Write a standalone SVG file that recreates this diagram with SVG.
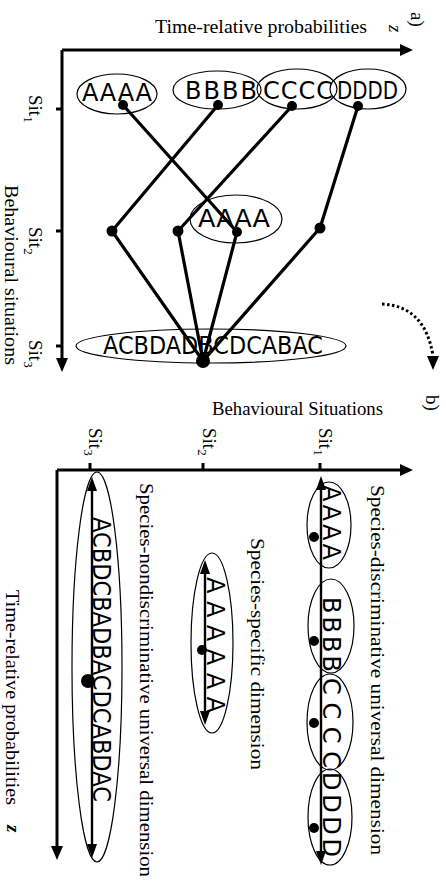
<svg xmlns="http://www.w3.org/2000/svg" width="446" height="889" viewBox="0 0 446 889">
<style>
.ax{stroke:#000;stroke-width:3;fill:none}
.ln{stroke:#000;stroke-width:3.2;fill:none}
.ln2{stroke:#000;stroke-width:2.4;fill:none}
.el{stroke:#000;stroke-width:1.2;fill:none}
.dot{fill:#000}
.ah{fill:#000}
.ser{font-family:"Liberation Serif","Times New Roman",serif;font-size:19px;fill:#000}
.sans{font-family:"DejaVu Sans","Liberation Sans",Arial,sans-serif;font-size:24px;fill:#000}
.sub{font-size:13px}
</style>
<rect width="446" height="889" fill="#fff"/>

<!-- Panel a axes -->
<g id="axes-a">
<path class="ax" d="M62,50 H402 M62,50 V360 M56,109 H62 M56,231 H62 M56,346 H62"/>
<polygon class="ah" points="413,50 400,44 400,56"/>
<polygon class="ah" points="62,372 56,358 68,358"/>
<text class="ser" x="155" y="33" textLength="212" lengthAdjust="spacingAndGlyphs">Time-relative probabilities</text>
<text class="ser" font-style="italic" transform="translate(389,25) rotate(90)">z</text>
<text class="ser" font-size="21" transform="translate(411,12) rotate(90)">a)</text>
<text class="ser" transform="translate(5,185) rotate(90)" textLength="180" lengthAdjust="spacingAndGlyphs">Behavioural situations</text>
<text class="ser" transform="translate(29,95) rotate(90)">Sit<tspan class="sub" dy="5">1</tspan></text>
<text class="ser" transform="translate(29,227) rotate(90)">Sit<tspan class="sub" dy="5">2</tspan></text>
<text class="ser" transform="translate(29,340) rotate(90)">Sit<tspan class="sub" dy="5">3</tspan></text>
</g>

<g id="connectors-a">
<path class="ln" d="M123,105 L237,232 M218,105 L112,231 M292,106 L178,231 M358,106 L320,228"/>
<path class="ln" d="M112,231 L203,361 M178,231 L203,361 M237,232 L203,361 M320,228 L203,361"/>
</g>

<g id="node-a-AAAA">
<ellipse class="el" cx="117" cy="94" rx="40" ry="20"/>
<text class="sans" x="82" y="101" textLength="70" lengthAdjust="spacing">AAAA</text>
<circle class="dot" cx="123" cy="105" r="5"/>
</g>
<g id="node-a-BBBB">
<ellipse class="el" cx="217" cy="90" rx="44" ry="19"/>
<text class="sans" x="185" y="99" textLength="72" lengthAdjust="spacing">BBBB</text>
<circle class="dot" cx="218" cy="105" r="5"/>
</g>
<g id="node-a-CCCC">
<ellipse class="el" cx="297" cy="89" rx="40" ry="20"/>
<text class="sans" x="263" y="99" textLength="70" lengthAdjust="spacing">CCCC</text>
<circle class="dot" cx="292" cy="106" r="5"/>
</g>
<g id="node-a-DDDD">
<ellipse class="el" cx="368" cy="89" rx="38" ry="20"/>
<text class="sans" x="337" y="99" textLength="61" lengthAdjust="spacingAndGlyphs">DDDD</text>
<circle class="dot" cx="358" cy="106" r="5"/>
</g>
<g id="node-a-sit2">
<ellipse class="el" cx="236" cy="219" rx="46" ry="24"/>
<text class="sans" x="198" y="227" textLength="72" lengthAdjust="spacingAndGlyphs">AAAA</text>
<circle class="dot" cx="112" cy="231" r="5.5"/>
<circle class="dot" cx="178" cy="231" r="5.5"/>
<circle class="dot" cx="237" cy="232" r="5"/>
<circle class="dot" cx="320" cy="228" r="5.5"/>
</g>
<g id="node-a-sit3">
<ellipse class="el" cx="211" cy="346" rx="135" ry="17"/>
<text class="sans" x="103" y="354" textLength="220" lengthAdjust="spacingAndGlyphs">ACBDADBCDCABAC</text>
<circle class="dot" cx="203" cy="361" r="7"/>
</g>

<g id="transition">
<path d="M382,304 Q425,306 433,356" stroke="#000" stroke-width="3" stroke-dasharray="2.5,2.5" fill="none"/>
<polygon class="ah" points="433,370 427,356 439,356"/>
</g>

<!-- Panel b -->
<g id="axes-b">
<path class="ax" d="M57,470 H402 M57,470 V848 M90,463 V470 M203,463 V470 M320,463 V470"/>
<polygon class="ah" points="413,470 400,464 400,476"/>
<polygon class="ah" points="57,860 51,846 63,846"/>
<text class="ser" x="212" y="415" textLength="171" lengthAdjust="spacingAndGlyphs">Behavioural Situations</text>
<text class="ser" font-size="21" transform="translate(426,395) rotate(90)">b)</text>
<text class="ser" transform="translate(6,590) rotate(90)" textLength="215" lengthAdjust="spacingAndGlyphs">Time-relative probabilities</text>
<text class="ser" font-style="italic" font-weight="bold" transform="translate(7,825) rotate(90)">z</text>
<text class="ser" transform="translate(89,428) rotate(90)">Sit<tspan class="sub" dy="5">3</tspan></text>
<text class="ser" transform="translate(203,428) rotate(90)">Sit<tspan class="sub" dy="5">2</tspan></text>
<text class="ser" transform="translate(319,428) rotate(90)">Sit<tspan class="sub" dy="5">1</tspan></text>
<text class="ser" transform="translate(371,485) rotate(90)" textLength="370" lengthAdjust="spacingAndGlyphs">Species-discriminative universal dimension</text>
<text class="ser" transform="translate(251,538) rotate(90)" textLength="232" lengthAdjust="spacingAndGlyphs">Species-specific dimension</text>
<text class="ser" transform="translate(140,483) rotate(90)" textLength="394" lengthAdjust="spacingAndGlyphs">Species-nondiscriminative universal dimension</text>
</g>

<g id="node-b-sit1">
<path class="ln2" d="M321,488 V853"/>
<polygon class="ah" points="321,476 316,490 326,490"/>
<polygon class="ah" points="321,865 316,851 326,851"/>
<ellipse class="el" cx="329" cy="525" rx="22" ry="43"/>
<ellipse class="el" cx="331" cy="626" rx="23" ry="47"/>
<ellipse class="el" cx="330" cy="722" rx="23" ry="48"/>
<ellipse class="el" cx="330" cy="817" rx="22" ry="48"/>
<text class="sans" transform="translate(323,485) rotate(90)" textLength="75" lengthAdjust="spacing">AAAA</text>
<text class="sans" transform="translate(323,597) rotate(90)" textLength="75" lengthAdjust="spacing">BBBB</text>
<text class="sans" transform="translate(323,678) rotate(90)" textLength="90" lengthAdjust="spacing">CCCC</text>
<text class="sans" transform="translate(323,772) rotate(90)" textLength="85" lengthAdjust="spacing">DDDD</text>
<circle class="dot" cx="314" cy="537" r="5"/>
<circle class="dot" cx="314" cy="641" r="5"/>
<circle class="dot" cx="314" cy="723" r="5"/>
<circle class="dot" cx="314" cy="828" r="5"/>
</g>

<g id="node-b-sit2">
<ellipse class="el" cx="212" cy="643" rx="21" ry="90"/>
<path class="ln2" d="M205,572 V713"/>
<polygon class="ah" points="205,560 200,574 210,574"/>
<polygon class="ah" points="205,725 200,711 210,711"/>
<text class="sans" transform="translate(207,577) rotate(90)" textLength="136" lengthAdjust="spacing">AAAAAA</text>
<circle class="dot" cx="202" cy="650" r="5"/>
</g>

<g id="node-b-sit3">
<ellipse class="el" cx="97" cy="667" rx="25" ry="195"/>
<path class="ln2" d="M92,489 V846"/>
<polygon class="ah" points="92,477 87,491 97,491"/>
<polygon class="ah" points="92,858 87,844 97,844"/>
<text class="sans" transform="translate(93,517) rotate(90)" textLength="285" lengthAdjust="spacingAndGlyphs">ACBDCBADBACDCABDAC</text>
<circle class="dot" cx="88" cy="681" r="7"/>
</g>
</svg>
